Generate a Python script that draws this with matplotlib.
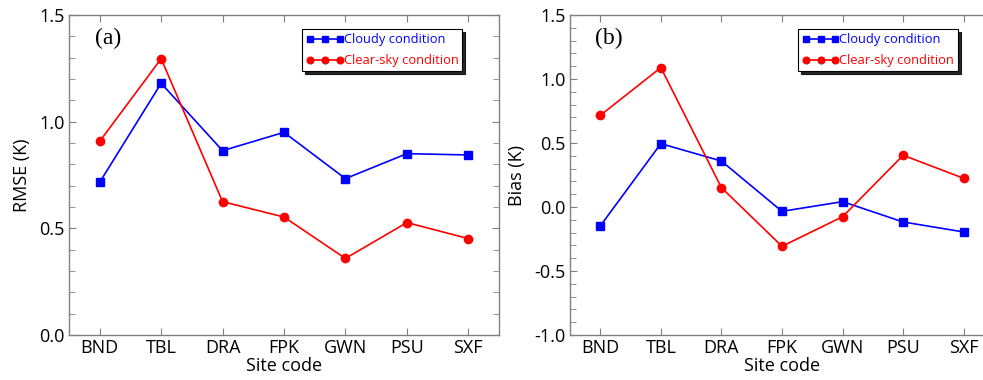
import matplotlib
matplotlib.use('Agg')
import matplotlib.pyplot as plt
from matplotlib.ticker import MultipleLocator

plt.rcParams['font.family'] = ['Open Sans', 'DejaVu Sans']

# 데이터
sites = ['BND', 'TBL', 'DRA', 'FPK', 'GWN', 'PSU', 'SXF']
rmse_cloudy = [0.716, 1.180, 0.864, 0.950, 0.733, 0.850, 0.844]
rmse_clear = [0.908, 1.295, 0.625, 0.553, 0.359, 0.527, 0.452]
bias_cloudy = [-0.148, 0.495, 0.359, -0.034, 0.042, -0.117, -0.195]
bias_clear = [0.716, 1.089, 0.151, -0.307, -0.076, 0.404, 0.224]

W, H = 983, 380
fig = plt.figure(figsize=(W / 100, H / 100), dpi=100)

# 패널 위치 (픽셀 기준), 오른쪽 패널은 원본처럼 잘림
ax1 = fig.add_axes([69 / W, 45 / H, 430 / W, 320 / H])
ax2 = fig.add_axes([570 / W, 45 / H, 424 / W, 320 / H])

gray = '#808080'

def draw(ax, cloudy, clear, ylim, ylabel, tag):
    x = range(len(sites))
    ax.plot(x, cloudy, color='blue', marker='s', markersize=6, lw=1.2,
            label='Cloudy condition')
    ax.plot(x, clear, color='red', marker='o', markersize=6, lw=1.2,
            label='Clear-sky condition')
    ax.set_xlim(-0.5, 6.5)
    ax.set_ylim(*ylim)
    ax.set_xticks(list(x))
    ax.set_xticklabels(sites)
    ax.yaxis.set_major_locator(MultipleLocator(0.5))
    ax.yaxis.set_minor_locator(MultipleLocator(0.1))
    ax.yaxis.set_major_formatter(plt.FormatStrFormatter('%.1f'))
    ax.tick_params(which='both', direction='in', top=True, right=True,
                   color=gray, labelsize=13, pad=3)
    ax.tick_params(which='major', length=5)
    ax.tick_params(which='minor', length=4)
    for s in ax.spines.values():
        s.set_color(gray)
        s.set_linewidth(1.0)
    ax.set_xlabel('Site code', fontsize=13, labelpad=0)
    ax.set_ylabel(ylabel, fontsize=13, labelpad=6)
    ax.text(0.06, 0.96, tag, transform=ax.transAxes, fontsize=17,
            family='Liberation Serif', va='top', ha='left')
    # 범례: 그림자, 검은 테두리, 글자색 = 선 색
    leg = ax.legend(loc='upper right', bbox_to_anchor=(0.915, 0.955),
                    numpoints=3, fontsize=9.3, frameon=True, fancybox=False,
                    shadow=dict(color='black', alpha=0.85),
                    edgecolor='black', handlelength=2.9, markerscale=0.8,
                    handletextpad=0.0, borderpad=0.3, labelspacing=0.6,
                    borderaxespad=0)
    leg.get_frame().set_linewidth(0.8)
    for t, c in zip(leg.get_texts(), ['blue', 'red']):
        t.set_color(c)

draw(ax1, rmse_cloudy, rmse_clear, (0, 1.5), 'RMSE (K)', '(a)')
draw(ax2, bias_cloudy, bias_clear, (-1.0, 1.5), 'Bias (K)', '(b)')

plt.savefig('out.png', dpi=100)
